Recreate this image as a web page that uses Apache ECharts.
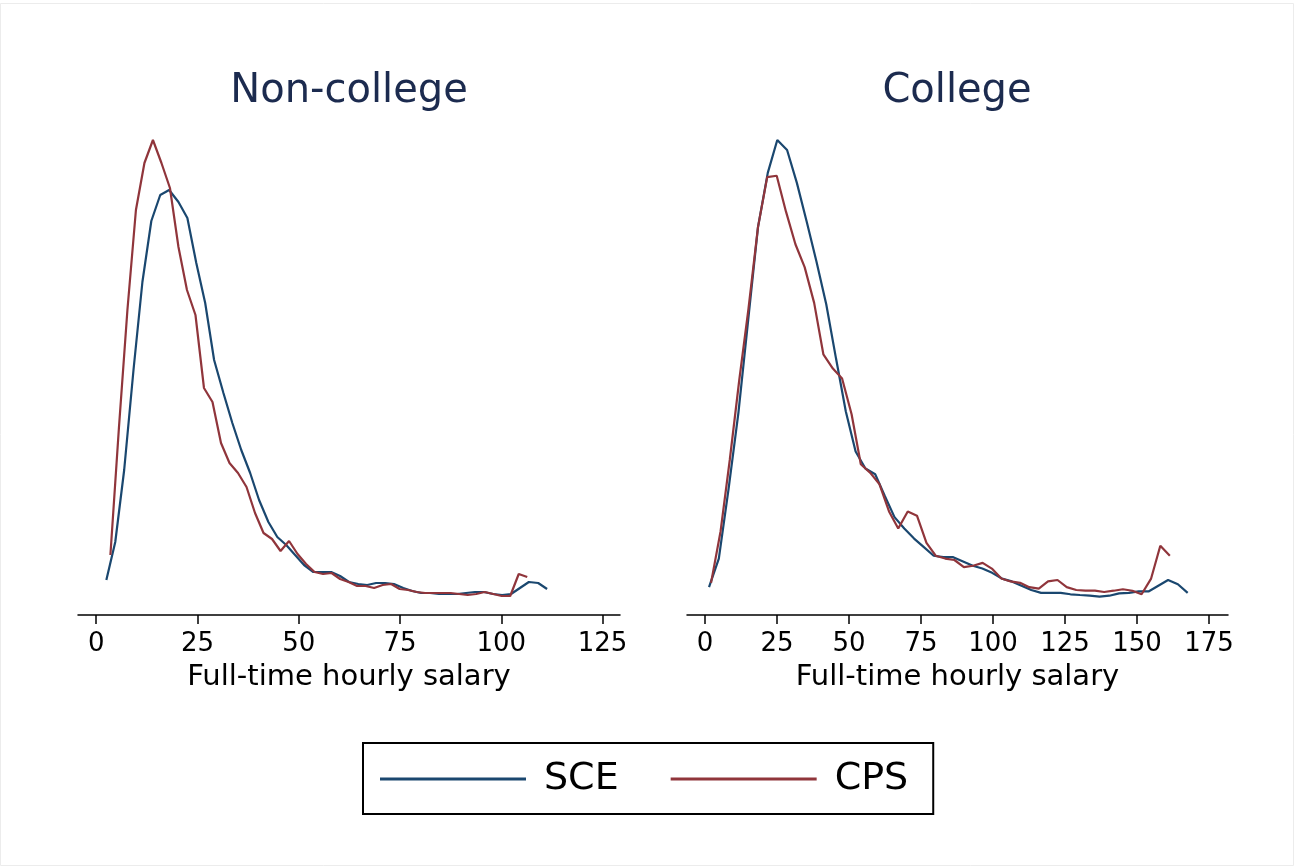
<!DOCTYPE html>
<html>
<head>
<meta charset="utf-8">
<title>Full-time hourly salary densities</title>
<script src="https://cdn.jsdelivr.net/npm/echarts@6/dist/echarts.min.js"></script>
<style>
  html, body { margin: 0; padding: 0; background: #ffffff; }
  #chart { width: 1295px; height: 867px; }
</style>
</head>
<body>
<div id="chart"></div>
<script>
// Kernel density estimates of full-time hourly salary (50 evaluation points each)
const panelTitles = ['Non-college', 'College'];
const seriesNames = ['SCE', 'CPS'];
const xAxisTitle = 'Full-time hourly salary';
const ncTicks = [0, 25, 50, 75, 100, 125];
const cTicks = [0, 25, 50, 75, 100, 125, 150, 175];

// Non-college, SCE
const ncSceX = [2.5, 4.7, 6.9, 9.2, 11.4, 13.6, 15.8, 18.0, 20.3, 22.5,
  24.7, 26.9, 29.1, 31.4, 33.6, 35.8, 38.0, 40.2, 42.5, 44.7,
  46.9, 49.1, 51.3, 53.6, 55.8, 58.0, 60.2, 62.4, 64.7, 66.9,
  69.1, 71.3, 73.5, 75.8, 78.0, 80.2, 82.4, 84.6, 86.9, 89.1,
  91.3, 93.5, 95.7, 98.0, 100.2, 102.4, 104.6, 106.8, 109.1, 111.3];
const ncSceY = [0.0020, 0.0058, 0.0130, 0.0230, 0.0318, 0.0379, 0.0405, 0.0410, 0.0398, 0.0382,
  0.0337, 0.0297, 0.0240, 0.0207, 0.0177, 0.0150, 0.0127, 0.0100, 0.0078, 0.0063,
  0.0055, 0.0045, 0.0035, 0.0028, 0.0028, 0.0028, 0.0024, 0.0018, 0.0016, 0.0015,
  0.0017, 0.0017, 0.0016, 0.0012, 0.0009, 0.0007, 0.0007, 0.0006, 0.0006, 0.0006,
  0.0007, 0.0008, 0.0008, 0.0006, 0.0005, 0.0006, 0.0012, 0.0018, 0.0017, 0.0011];

// Non-college, CPS
const ncCpsX = [3.5, 5.6, 7.7, 9.8, 11.9, 14.0, 16.1, 18.2, 20.3, 22.4,
  24.5, 26.6, 28.7, 30.8, 32.9, 35.0, 37.1, 39.2, 41.3, 43.4,
  45.5, 47.6, 49.7, 51.8, 53.9, 56.0, 58.1, 60.2, 62.3, 64.4,
  66.5, 68.6, 70.7, 72.8, 74.9, 77.0, 79.1, 81.2, 83.3, 85.4,
  87.5, 89.6, 91.7, 93.8, 95.9, 98.0, 100.1, 102.2, 104.3, 106.4];
const ncCpsY = [0.0045, 0.0172, 0.0290, 0.0390, 0.0437, 0.0460, 0.0437, 0.0412, 0.0353, 0.0310,
  0.0285, 0.0212, 0.0198, 0.0157, 0.0137, 0.0127, 0.0113, 0.0087, 0.0067, 0.0061,
  0.0049, 0.0059, 0.0046, 0.0036, 0.0028, 0.0026, 0.0027, 0.0021, 0.0018, 0.0014,
  0.0014, 0.0012, 0.0015, 0.0016, 0.0011, 0.0010, 0.0008, 0.0007, 0.0007, 0.0007,
  0.0007, 0.0006, 0.0005, 0.0006, 0.0008, 0.0006, 0.0004, 0.0004, 0.0026, 0.0023];

// College, SCE
const cSceX = [1.4, 4.8, 8.2, 11.6, 15.0, 18.4, 21.8, 25.1, 28.5, 31.9,
  35.3, 38.7, 42.1, 45.5, 48.9, 52.3, 55.7, 59.1, 62.4, 65.8,
  69.2, 72.6, 76.0, 79.4, 82.8, 86.2, 89.6, 93.0, 96.3, 99.7,
  103.1, 106.5, 109.9, 113.3, 116.7, 120.1, 123.5, 126.9, 130.2, 133.6,
  137.0, 140.4, 143.8, 147.2, 150.6, 154.0, 157.4, 160.8, 164.2, 167.6];
const cSceY = [0.0009, 0.0029, 0.0078, 0.0131, 0.0196, 0.0261, 0.0299, 0.0322, 0.0315, 0.0292,
  0.0265, 0.0237, 0.0207, 0.0169, 0.0132, 0.0104, 0.0092, 0.0088, 0.0073, 0.0058,
  0.0050, 0.0043, 0.0037, 0.0031, 0.0030, 0.0030, 0.0027, 0.0024, 0.0022, 0.0019,
  0.0015, 0.0013, 0.0010, 0.0007, 0.0005, 0.0005, 0.0005, 0.0004, 0.00035, 0.0003,
  0.00024, 0.0003, 0.00046, 0.0005, 0.0006, 0.0006, 0.0010, 0.0014, 0.0011, 0.0005];

// College, CPS
const cCpsX = [2.1, 5.4, 8.6, 11.9, 15.1, 18.4, 21.6, 24.9, 28.1, 31.4,
  34.6, 37.9, 41.1, 44.4, 47.6, 50.9, 54.1, 57.4, 60.6, 63.9,
  67.1, 70.4, 73.6, 76.9, 80.1, 83.4, 86.6, 89.9, 93.1, 96.4,
  99.6, 102.9, 106.1, 109.4, 112.6, 115.9, 119.1, 122.4, 125.6, 128.9,
  132.1, 135.4, 138.6, 141.9, 145.1, 148.4, 151.6, 154.9, 158.1, 161.4];
const cCpsY = [0.0012, 0.0048, 0.0098, 0.0154, 0.0204, 0.0261, 0.0296, 0.0297, 0.0272, 0.0249,
  0.0233, 0.0208, 0.0172, 0.0162, 0.0155, 0.0130, 0.0095, 0.0089, 0.0081, 0.0062,
  0.0050, 0.0062, 0.0059, 0.0040, 0.0031, 0.0029, 0.0028, 0.0023, 0.0024, 0.0026,
  0.0022, 0.0015, 0.0013, 0.0012, 0.0009, 0.0008, 0.0013, 0.0014, 0.0009, 0.0007,
  0.00065, 0.00065, 0.00056, 0.00065, 0.00075, 0.00065, 0.0004, 0.0015, 0.0038, 0.0031];

const SCE_COLOR = '#1a476f';
const CPS_COLOR = '#90353b';
const FONT = 'DejaVu Sans';

const zip = (xs, ys) => xs.map((x, i) => [x, ys[i]]);

function salaryAxis(gridIndex, min, max, ticks) {
  return {
    type: 'value',
    gridIndex: gridIndex,
    min: min,
    max: max,
    position: 'bottom',
    axisLine: { show: true, onZero: false, lineStyle: { color: '#000', width: 1.5 } },
    axisTick: { show: true, length: 9, customValues: ticks, lineStyle: { color: '#000', width: 1.5 } },
    axisLabel: { customValues: ticks, fontSize: 26, color: '#000', fontFamily: FONT, margin: 16 },
    splitLine: { show: false },
    name: xAxisTitle,
    nameLocation: 'middle',
    nameGap: 48,
    nameTextStyle: { fontSize: 29, color: '#000', fontFamily: FONT }
  };
}

function densityAxis(gridIndex, min, max) {
  return { type: 'value', gridIndex: gridIndex, min: min, max: max, show: false };
}

function densityLine(name, color, axisIndex, data) {
  return {
    name: name,
    type: 'line',
    xAxisIndex: axisIndex,
    yAxisIndex: axisIndex,
    data: data,
    showSymbol: false,
    symbol: 'none',
    lineStyle: { color: color, width: 2.2 },
    itemStyle: { color: color },
    z: name === 'CPS' ? 3 : 2
  };
}

const chart = echarts.init(document.getElementById('chart'), null, { renderer: 'canvas' });

chart.setOption({
  animation: false,
  backgroundColor: '#ffffff',
  textStyle: { fontFamily: FONT },
  graphic: [{
    type: 'rect',
    shape: { x: 0.5, y: 3.5, width: 1293, height: 862 },
    style: { fill: 'none', stroke: '#ececec', lineWidth: 1 },
    silent: true
  }],
  title: [
    { text: panelTitles[0], left: 349, top: 72, textAlign: 'center', padding: 0,
      textStyle: { fontSize: 40, fontWeight: 'normal', color: '#1c2b4f', fontFamily: FONT } },
    { text: panelTitles[1], left: 957, top: 72, textAlign: 'center', padding: 0,
      textStyle: { fontSize: 40, fontWeight: 'normal', color: '#1c2b4f', fontFamily: FONT } }
  ],
  grid: [
    { left: 78, top: 140, width: 542, height: 475 },
    { left: 687, top: 140, width: 541, height: 475 }
  ],
  xAxis: [
    salaryAxis(0, -4.5, 129.3, ncTicks),
    salaryAxis(1, -6.25, 181.6, cTicks)
  ],
  yAxis: [
    densityAxis(0, -0.0015, 0.046),
    densityAxis(1, -0.00105, 0.0322)
  ],
  legend: {
    data: seriesNames,
    left: 363,
    top: 743,
    orient: 'horizontal',
    icon: 'rect',
    itemWidth: 146,
    itemHeight: 3,
    itemGap: 52,
    padding: [17, 25, 16, 17],
    borderColor: '#000',
    borderWidth: 2,
    textStyle: { fontSize: 38, color: '#000', fontFamily: FONT, padding: [0, 0, 0, 13] }
  },
  series: [
    densityLine('SCE', SCE_COLOR, 0, zip(ncSceX, ncSceY)),
    densityLine('CPS', CPS_COLOR, 0, zip(ncCpsX, ncCpsY)),
    densityLine('SCE', SCE_COLOR, 1, zip(cSceX, cSceY)),
    densityLine('CPS', CPS_COLOR, 1, zip(cCpsX, cCpsY))
  ]
});
</script>
</body>
</html>
